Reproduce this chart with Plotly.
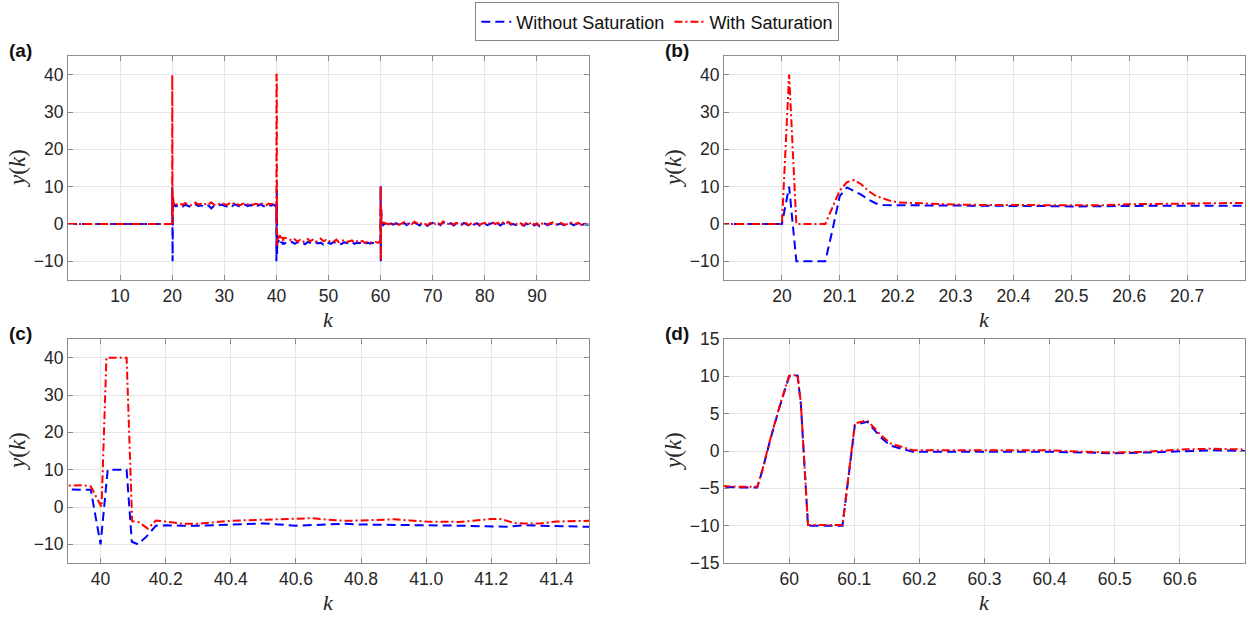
import numpy as np
import plotly.graph_objects as go

# ---------------- data ----------------
PRE_K = [0.0, 10.0]
PRE_Y = [0.0, 0.0]

# transient around k = 20 (shared sample times)
T20_K = [19.9, 20.0, 20.0125, 20.025, 20.0375, 20.05, 20.0625, 20.075, 20.0875, 20.1,
         20.1125, 20.125, 20.1375, 20.15, 20.1625, 20.175, 20.1875, 20.2, 20.225, 20.25,
         20.3, 20.35, 20.4, 20.45, 20.5, 20.55, 20.6, 20.65, 20.7, 20.75, 20.8]
T20_RED = [0, 0, 40, 0, 0, 0, 0, 0, 4.5, 9.0, 11.2, 11.8, 10.6, 8.8, 7.5, 6.8, 6.2, 5.8,
           5.6, 5.4, 5.2, 5.1, 5.1, 5.0, 4.9, 5.0, 5.3, 5.3, 5.3, 5.2, 5.2]
T20_BLUE = [0, 0, 10, -10, -10, -10, -10, -10, -1.5, 7.5, 9.8, 8.8, 7.8, 6.5, 5.5, 5.1, 5.0,
            5.0, 5.0, 5.0, 5.0, 4.9, 4.9, 4.8, 4.7, 4.8, 5.0, 4.9, 4.9, 4.8, 4.9]

# steady part 21 .. 39.5
S3_RED = [5.2, 5.5, 5.1, 5.6, 5.3, 5.0, 5.4, 5.7, 5.2, 5.4, 5.1, 5.5, 5.3, 5.8, 5.2, 5.0,
          5.4, 5.6, 5.3, 5.1, 5.5, 5.2, 5.7, 5.3, 5.0, 5.4, 5.6, 5.2, 5.5, 5.1, 5.4, 5.3,
          5.7, 5.2, 5.0, 5.5, 5.3, 5.6]
S3_BLUE = [4.9, 5.1, 4.7, 5.2, 4.9, 4.6, 5.0, 5.3, 4.8, 5.0, 4.7, 5.1, 4.9, 4.2, 4.8, 4.6,
           5.0, 5.2, 4.9, 4.7, 5.1, 4.8, 5.3, 4.9, 4.6, 5.0, 5.2, 4.8, 5.1, 4.7, 5.0, 4.9,
           5.3, 4.8, 4.6, 5.1, 4.9, 5.2]

# transient around k = 40
T40_RED_K = [39.9, 39.925, 39.95, 39.97, 39.985, 40.003, 40.018, 40.08, 40.097, 40.118,
             40.145, 40.17, 40.2, 40.25, 40.3, 40.35, 40.4, 40.5, 40.6, 40.65, 40.7, 40.75,
             40.8, 40.9, 40.95, 41.0, 41.1, 41.15, 41.2, 41.23, 41.27, 41.3, 41.35, 41.4,
             41.45, 41.5]
T40_RED = [5.8, 5.9, 5.8, 5.5, 3.0, 0.0, 40.0, 40.0, -3.8, -4.1, -5.8, -3.6, -3.9, -4.5,
           -4.5, -4.1, -3.7, -3.4, -3.0, -3.0, -3.4, -3.7, -3.6, -3.3, -3.6, -3.9, -4.0,
           -3.6, -3.2, -3.2, -4.3, -4.4, -4.4, -3.9, -3.7, -3.7]
T40_BLUE_K = [39.9, 39.925, 39.95, 39.97, 40.0, 40.022, 40.08, 40.096, 40.115, 40.14,
              40.17, 40.2, 40.25, 40.3, 40.4, 40.5, 40.6, 40.7, 40.75, 40.8, 40.9, 41.0,
              41.1, 41.2, 41.25, 41.3, 41.4, 41.5]
T40_BLUE = [4.7, 4.7, 4.7, 4.6, -10.0, 10.0, 10.0, -9.3, -10.0, -8.0, -5.0, -4.9, -5.0,
            -5.0, -4.7, -4.4, -5.0, -4.7, -4.5, -4.7, -4.9, -4.9, -5.0, -5.3, -5.3, -4.9,
            -5.0, -5.3]

# steady part 42 .. 59.5
S5_RED = [-3.8, -4.2, -4.5, -4.1, -4.7, -4.3, -4.9, -4.4, -4.0, -4.6, -4.2, -4.8, -4.5,
          -3.9, -4.6, -4.3, -4.8, -4.4, -4.7, -4.2, -4.9, -4.5, -4.3, -4.8, -4.6, -4.4,
          -5.0, -4.6, -4.8, -4.5, -5.1, -4.7, -4.9, -5.0, -4.8, -5.0]
S5_BLUE = [-4.9, -5.1, -4.8, -5.3, -4.9, -5.2, -5.0, -5.4, -4.8, -5.1, -5.3, -4.9, -5.2,
           -5.0, -5.5, -4.9, -5.1, -5.3, -4.8, -5.2, -5.0, -5.4, -4.9, -5.1, -5.2, -4.8,
           -5.3, -5.0, -5.1, -4.9, -5.3, -5.0, -5.2, -5.1, -4.9, -5.0]

# transient around k = 60 (shared sample times)
T60_K = [59.9, 59.925, 59.951, 59.959, 59.972, 59.985, 60.0, 60.013, 60.018, 60.023,
         60.029, 60.082, 60.09, 60.101, 60.12, 60.141, 60.156, 60.19, 60.2, 60.25, 60.3,
         60.35, 60.4, 60.45, 60.5, 60.55, 60.6, 60.65, 60.7]
T60_RED = [-4.7, -4.8, -4.8, -2.5, 1.9, 5.9, 10.1, 10.2, 6.4, -0.5, -9.9, -9.9, -3.9, 3.7,
           4.1, 2.1, 1.0, 0.1, 0.1, 0.1, 0.1, 0.2, 0.1, -0.1, -0.2, -0.1, 0.2, 0.3, 0.2]
T60_BLUE = [-4.8, -4.9, -4.9, -2.6, 1.8, 5.8, 10.0, 10.1, 6.3, -0.6, -10.0, -10.0, -4.0,
            3.5, 3.9, 1.8, 0.7, -0.1, -0.1, -0.1, 0.0, 0.0, -0.1, -0.2, -0.3, -0.2, 0.0,
            0.1, 0.0]

# steady part 61 .. 100
S7_RED = [0.2, -0.1, 0.3, 0.0, 0.4, -0.2, 0.1, 0.5, -0.1, 0.3, 0.0, 0.6, 0.2, -0.2, 0.4,
          0.1, -0.3, 0.2, 0.5, 0.0, 0.3, -0.1, 0.7, 0.2, 0.0, 0.4, -0.2, 0.3, 0.1, -0.1,
          0.5, 0.2, -0.3, 0.3, 0.0, 0.4, -0.2, 0.1, 0.3, -0.1, 0.2, 0.5, 0.0, 0.3, -0.2,
          0.4, 0.1, 0.6, 0.0, 0.2, -0.1, 0.4, 0.1, -0.3, 0.3, 0.0, 0.5, -0.2, 0.2, -0.5,
          0.1, 0.3, -0.1, 0.2, 0.4, -0.2, 0.1, 0.3, 0.0, -0.2, 0.2, 0.4, -0.1, 0.1, 0.3,
          -0.2, 0.2, 0.0, 0.1]
S7_BLUE = [0.0, -0.3, 0.1, -0.2, 0.2, -0.4, -0.1, 0.3, -0.3, 0.1, -0.2, 0.4, 0.0, -0.4,
           0.2, -0.1, -0.5, 0.0, 0.3, -0.2, 0.1, -0.3, 0.5, 0.0, -0.2, 0.2, -0.4, 0.1,
           -0.1, -0.3, 0.3, 0.0, -0.5, 0.1, -0.2, 0.2, -0.4, -0.1, 0.1, -0.3, 0.0, 0.3,
           -0.2, 0.1, -0.4, 0.2, -0.1, 0.4, -0.2, 0.0, -0.3, 0.2, -0.1, -0.5, 0.1, -0.2,
           0.3, -0.4, 0.0, -0.6, -0.1, 0.1, -0.3, 0.0, 0.2, -0.4, -0.1, 0.1, -0.2, -0.4,
           0.0, 0.2, -0.3, -0.1, 0.1, -0.4, 0.0, -0.2, -0.1]

PANEL_LABELS = ["(a)", "(b)", "(c)", "(d)"]
X_RANGES = [[0, 100], [19.9, 20.8], [39.9, 41.5], [59.9, 60.7]]
Y_RANGES = [[-15, 45], [-15, 45], [-15, 45], [-15, 15]]
X_TICKS = [[10, 20, 30, 40, 50, 60, 70, 80, 90],
           [20, 20.1, 20.2, 20.3, 20.4, 20.5, 20.6, 20.7],
           [40, 40.2, 40.4, 40.6, 40.8, 41.0, 41.2, 41.4],
           [60, 60.1, 60.2, 60.3, 60.4, 60.5, 60.6]]
X_TICKTEXT = [["10", "20", "30", "40", "50", "60", "70", "80", "90"],
              ["20", "20.1", "20.2", "20.3", "20.4", "20.5", "20.6", "20.7"],
              ["40", "40.2", "40.4", "40.6", "40.8", "41.0", "41.2", "41.4"],
              ["60", "60.1", "60.2", "60.3", "60.4", "60.5", "60.6"]]
Y_TICKS = [[-10, 0, 10, 20, 30, 40], [-10, 0, 10, 20, 30, 40],
           [-10, 0, 10, 20, 30, 40], [-15, -10, -5, 0, 5, 10, 15]]


def build(t20, s3, k40, t40, s5, t60, s7):
    k = (PRE_K + T20_K + list(np.linspace(21.0, 39.5, len(s3))) + k40 +
         list(np.linspace(42.0, 59.5, len(s5))) + T60_K +
         list(np.linspace(61.0, 100.0, len(s7))))
    y = PRE_Y + t20 + s3 + t40 + s5 + t60 + s7
    return k, y


k_blue, y_blue = build(T20_BLUE, S3_BLUE, T40_BLUE_K, T40_BLUE, S5_BLUE, T60_BLUE, S7_BLUE)
k_red, y_red = build(T20_RED, S3_RED, T40_RED_K, T40_RED, S5_RED, T60_RED, S7_RED)

# ---------------- layout ----------------
W, H = 1258, 617
# pixel boxes: (left, right, top, bottom)
BOXES = [(68, 589, 56, 280), (724, 1245, 56, 280), (68, 589, 339, 563), (724, 1245, 339, 563)]

fig = go.Figure()
BLUE = "#0000FF"
RED = "#FF0000"

for i in range(4):
    xa = "x" if i == 0 else f"x{i+1}"
    ya = "y" if i == 0 else f"y{i+1}"
    fig.add_trace(go.Scatter(x=k_blue, y=y_blue, mode="lines", name="Without Saturation",
                             line=dict(color=BLUE, width=2, dash="9px,5px"),
                             xaxis=xa, yaxis=ya, showlegend=(i == 0)))
    fig.add_trace(go.Scatter(x=k_red, y=y_red, mode="lines", name="With Saturation",
                             line=dict(color=RED, width=2, dash="8px,3px,2px,3px"),
                             xaxis=xa, yaxis=ya, showlegend=(i == 0)))

SANS = "Liberation Sans, Arial, sans-serif"
SERIF = "Liberation Serif, DejaVu Serif, serif"
tick_font = dict(family=SANS, size=17.5, color="#262626")
layout = dict(template="none", width=W, height=H, margin=dict(l=0, r=0, t=0, b=0, pad=0,
                                                                autoexpand=False),
              paper_bgcolor="white", plot_bgcolor="white",
              legend=dict(orientation="h", x=0.5225, xanchor="center", y=0.996,
                          yanchor="top", bordercolor="#8a8a8a", borderwidth=1,
                          bgcolor="white", font=dict(family=SANS, size=18, color="#111111"),
                          itemwidth=30, tracegroupgap=0),
              annotations=[])

for i, (l, r, t, b) in enumerate(BOXES):
    xk = "xaxis" if i == 0 else f"xaxis{i+1}"
    yk = "yaxis" if i == 0 else f"yaxis{i+1}"
    xa = "x" if i == 0 else f"x{i+1}"
    ya = "y" if i == 0 else f"y{i+1}"
    common = dict(showline=True, linecolor="#8c8c8c", linewidth=1, mirror="allticks",
                  ticks="inside", ticklen=5, tickcolor="#8c8c8c", showgrid=True,
                  gridcolor="#e6e6e6", gridwidth=1, zeroline=False, tickfont=tick_font,
                  automargin=False)
    layout[xk] = dict(domain=[l / W, r / W], range=X_RANGES[i], anchor=ya,
                      tickmode="array", tickvals=X_TICKS[i], ticktext=X_TICKTEXT[i], **common)
    layout[yk] = dict(domain=[1 - b / H, 1 - t / H], range=Y_RANGES[i], anchor=xa,
                      tickmode="array", tickvals=Y_TICKS[i], **common)
    cx = (l + r) / 2
    cy = (t + b) / 2
    # x label
    layout["annotations"].append(dict(text="<i>k</i>", xref="paper", yref="paper",
                                      x=cx / W, y=1 - (b + 39) / H, xanchor="center",
                                      yanchor="middle", showarrow=False,
                                      font=dict(family=SERIF, size=22, color="#262626")))
    # y label
    layout["annotations"].append(dict(text="<i>y</i>(<i>k</i>)", xref="paper", yref="paper",
                                      x=(l - 50) / W, y=1 - cy / H, xanchor="center",
                                      yanchor="middle", textangle=-90, showarrow=False,
                                      font=dict(family=SERIF, size=23, color="#262626")))
    # panel label
    layout["annotations"].append(dict(text="<b>" + PANEL_LABELS[i] + "</b>", xref="paper",
                                      yref="paper", x=(l - 61) / W, y=1 - (t - 6) / H,
                                      xanchor="left", yanchor="middle", showarrow=False,
                                      font=dict(family=SANS, size=19, color="#111111")))

fig.update_layout(**layout)
fig.write_html("out.html", config={"displayModeBar": False},
               post_script="document.body.style.margin='0px';document.body.style.overflow='hidden';")
